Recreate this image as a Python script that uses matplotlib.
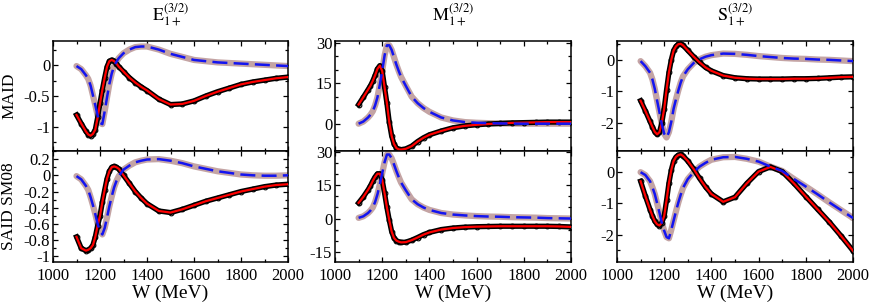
import matplotlib
matplotlib.use('Agg')
import matplotlib.pyplot as plt
from matplotlib.ticker import FixedLocator, MultipleLocator

plt.rcParams['font.family'] = ['Liberation Serif', 'DejaVu Serif']
plt.rcParams['mathtext.fontset'] = 'stix'
plt.rcParams['axes.unicode_minus'] = False

# ---------------- data ----------------
W = [1100, 1120, 1140, 1150, 1160, 1170, 1180, 1190, 1200, 1210, 1220, 1230,
     1240, 1250, 1260, 1270, 1280, 1300, 1325, 1350, 1375, 1400, 1450, 1500,
     1550, 1600, 1650, 1700, 1750, 1800, 1850, 1900, 1950, 2000]

E_MAID_re = [-0.81, -0.95, -1.08, -1.13, -1.15, -1.12, -1.05, -0.85, -0.62, -0.40, -0.20, -0.02,
             0.07, 0.09, 0.07, 0.03, -0.02, -0.10, -0.20, -0.28, -0.35, -0.41, -0.55, -0.64,
             -0.63, -0.58, -0.50, -0.43, -0.37, -0.31, -0.27, -0.24, -0.21, -0.19]
E_MAID_im = [-0.01, -0.06, -0.16, -0.22, -0.33, -0.49, -0.65, -0.82, -0.94, -0.96, -0.75, -0.52,
             -0.30, -0.13, -0.01, 0.06, 0.12, 0.20, 0.26, 0.30, 0.31, 0.31, 0.26, 0.19,
             0.14, 0.09, 0.07, 0.05, 0.04, 0.03, 0.02, 0.01, 0.00, -0.01]
E_SAID_re = [-0.76, -0.90, -0.93, -0.92, -0.90, -0.86, -0.76, -0.62, -0.50, -0.33, -0.18, -0.04,
             0.05, 0.10, 0.11, 0.10, 0.08, 0.00, -0.10, -0.20, -0.28, -0.35, -0.44, -0.46,
             -0.42, -0.37, -0.32, -0.28, -0.24, -0.20, -0.17, -0.14, -0.12, -0.11]
E_SAID_im = [-0.01, -0.05, -0.13, -0.18, -0.27, -0.37, -0.48, -0.60, -0.69, -0.73, -0.65, -0.52,
             -0.38, -0.26, -0.15, -0.07, -0.01, 0.07, 0.12, 0.16, 0.18, 0.195, 0.20, 0.18,
             0.15, 0.11, 0.08, 0.05, 0.03, 0.01, 0.00, -0.005, -0.005, 0.00]

M_MAID_re = [7.1, 9.8, 12.6, 14.0, 15.8, 17.9, 20.3, 21.5, 19.5, 13.5, 7.5, 0.5,
             -4.5, -7.5, -9.0, -9.5, -9.6, -9.3, -8.3, -6.6, -5.2, -4.1, -2.7, -1.5,
             -0.8, -0.4, -0.1, 0.1, 0.3, 0.4, 0.5, 0.6, 0.6, 0.6]
M_MAID_im = [0.0, 0.8, 2.3, 3.3, 4.6, 6.8, 9.8, 14.5, 19.5, 25.2, 29.0, 29.0,
             27.3, 24.6, 21.9, 19.5, 17.3, 14.0, 10.0, 7.6, 5.8, 4.4, 2.3, 1.2,
             0.6, 0.35, 0.2, 0.1, 0.05, 0.0, 0.0, 0.0, 0.0, 0.0]
M_SAID_re = [7.1, 9.8, 13.0, 14.8, 17.0, 18.9, 20.3, 20.3, 17.5, 11.5, 5.0, -0.8,
             -5.9, -8.8, -10.0, -10.5, -10.8, -10.7, -9.8, -8.6, -7.3, -6.3, -5.0, -4.3,
             -3.9, -3.7, -3.6, -3.5, -3.5, -3.5, -3.5, -3.5, -3.6, -3.8]
M_SAID_im = [0.3, 1.0, 2.5, 3.6, 5.0, 7.5, 11.0, 15.5, 20.5, 25.5, 29.0, 29.0,
             27.3, 24.5, 21.5, 18.8, 16.3, 12.8, 8.7, 6.5, 5.0, 3.9, 2.5, 1.8,
             1.4, 1.1, 0.9, 0.8, 0.6, 0.5, 0.4, 0.2, 0.1, 0.0]

S_MAID_re = [-1.30, -1.62, -1.96, -2.13, -2.29, -2.37, -2.30, -2.00, -1.55, -0.95, -0.40, 0.00,
             0.30, 0.43, 0.50, 0.51, 0.46, 0.30, 0.10, -0.08, -0.24, -0.35, -0.50, -0.57,
             -0.60, -0.61, -0.61, -0.61, -0.60, -0.60, -0.59, -0.57, -0.55, -0.54]
S_MAID_im = [-0.04, -0.20, -0.41, -0.62, -0.92, -1.30, -1.67, -2.05, -2.35, -2.47, -2.30, -1.97,
             -1.55, -1.25, -0.97, -0.72, -0.52, -0.30, -0.10, 0.02, 0.10, 0.15, 0.20, 0.19,
             0.16, 0.12, 0.09, 0.06, 0.04, 0.03, 0.01, 0.00, -0.02, -0.04]
S_SAID_re = [-0.29, -0.76, -1.20, -1.40, -1.57, -1.67, -1.71, -1.62, -1.40, -0.90, -0.35, 0.07,
             0.36, 0.49, 0.55, 0.57, 0.52, 0.36, 0.10, -0.20, -0.47, -0.70, -0.95, -0.80,
             -0.36, 0.02, 0.17, 0.02, -0.36, -0.78, -1.19, -1.60, -2.05, -2.52]
S_SAID_im = [0.00, -0.09, -0.29, -0.48, -0.70, -1.00, -1.30, -1.62, -1.88, -2.08, -2.12, -1.85,
             -1.55, -1.25, -0.97, -0.72, -0.50, -0.22, 0.00, 0.18, 0.30, 0.40, 0.48, 0.49,
             0.43, 0.34, 0.18, 0.04, -0.22, -0.46, -0.71, -0.97, -1.22, -1.47]

col_titles = [r'$\mathrm{E}_{1+}^{(3/2)}$', r'$\mathrm{M}_{1+}^{(3/2)}$', r'$\mathrm{S}_{1+}^{(3/2)}$']
row_labels = ['MAID', 'SAID SM08']
x_ticks = [1000, 1200, 1400, 1600, 1800, 2000]
x_ticklabels = ['1000', '1200', '1400', '1600', '1800', '2000']

E_MAID_yt = [-1, -0.5, 0];   E_MAID_yl = ['-1', '-0.5', '0']
E_SAID_yt = [-1, -0.8, -0.6, -0.4, -0.2, 0, 0.2]
E_SAID_yl = ['-1', '-0.8', '-0.6', '-0.4', '-0.2', '0', '0.2']
M_MAID_yt = [0, 15, 30];     M_MAID_yl = ['0', '15', '30']
M_SAID_yt = [-15, 0, 15, 30]; M_SAID_yl = ['-15', '0', '15', '30']
S_MAID_yt = [-2, -1, 0];     S_MAID_yl = ['-2', '-1', '0']
S_SAID_yt = [-2, -1, 0];     S_SAID_yl = ['-2', '-1', '0']

# ---------------- layout ----------------
fig = plt.figure(figsize=(8.72, 3.04), dpi=100)
FW, FH = 872.0, 304.0
col_x = [(53, 235), (335, 236), (617, 236)]
row_y = [(41, 151), (151, 262)]

panels = [
    [(E_MAID_re, E_MAID_im, (-1.40, 0.40), E_MAID_yt, E_MAID_yl, 0.25),
     (M_MAID_re, M_MAID_im, (-10.1, 30.6), M_MAID_yt, M_MAID_yl, 5),
     (S_MAID_re, S_MAID_im, (-2.90, 0.60), S_MAID_yt, S_MAID_yl, 0.5)],
    [(E_SAID_re, E_SAID_im, (-1.07, 0.30), E_SAID_yt, E_SAID_yl, 0.1),
     (M_SAID_re, M_SAID_im, (-19.7, 30.6), M_SAID_yt, M_SAID_yl, 5),
     (S_SAID_re, S_SAID_im, (-2.88, 0.68), S_SAID_yt, S_SAID_yl, 0.5)],
]

data_black = '#000000'
band_col = '#c4a4a4'
red = '#ff0000'
blue = '#1414f0'

for r in range(2):
    for c in range(3):
        x0, w = col_x[c]
        yt, yb = row_y[r]
        ax = fig.add_axes([x0 / FW, 1 - yb / FH, w / FW, (yb - yt) / FH])
        re, im, ylim, yt_, yl_, minor = panels[r][c]
        # data (points) drawn as dense markers band
        ax.plot(W, im, color=band_col, lw=4.5, solid_capstyle='round', zorder=2)
        ax.plot(W, re, color=data_black, lw=3.8, marker='o', ms=3.4,
                mfc='none', mec='black', mew=0.8, zorder=3)
        # fits
        ax.plot(W, re, color=red, lw=1.6, zorder=4)
        ax.plot(W, im, color=blue, lw=1.8, dashes=(6, 2.5), zorder=5)

        ax.set_xlim(1000, 2000)
        ax.set_ylim(*ylim)
        ax.xaxis.set_major_locator(FixedLocator(x_ticks))
        ax.xaxis.set_minor_locator(MultipleLocator(100))
        ax.yaxis.set_major_locator(FixedLocator(yt_))
        ax.yaxis.set_minor_locator(MultipleLocator(minor))
        ax.set_yticklabels(yl_)
        if r == 1:
            ax.set_xticklabels(x_ticklabels)
            ax.set_xlabel('W (MeV)', fontsize=14, labelpad=1)
        else:
            ax.set_xticklabels([])
        ax.tick_params(which='both', direction='in', top=True, right=True,
                       labelsize=12, pad=2)
        ax.tick_params(axis='x', pad=4)
        ax.tick_params(which='major', length=3.5, width=0.9)
        ax.tick_params(which='minor', length=2.5, width=0.9)
        for s in ax.spines.values():
            s.set_linewidth(1.1)

for c in range(3):
    x0, w = col_x[c]
    fig.text((x0 + w / 2) / FW, 1 - 21 / FH, col_titles[c], ha='center',
             va='baseline', fontsize=13)

fig.text(9 / FW, 1 - 96 / FH, row_labels[0], rotation=90, ha='center',
         va='center', fontsize=12.5)
fig.text(9 / FW, 1 - 206 / FH, row_labels[1], rotation=90, ha='center',
         va='center', fontsize=12.5)

fig.savefig('out.png', dpi=100)
